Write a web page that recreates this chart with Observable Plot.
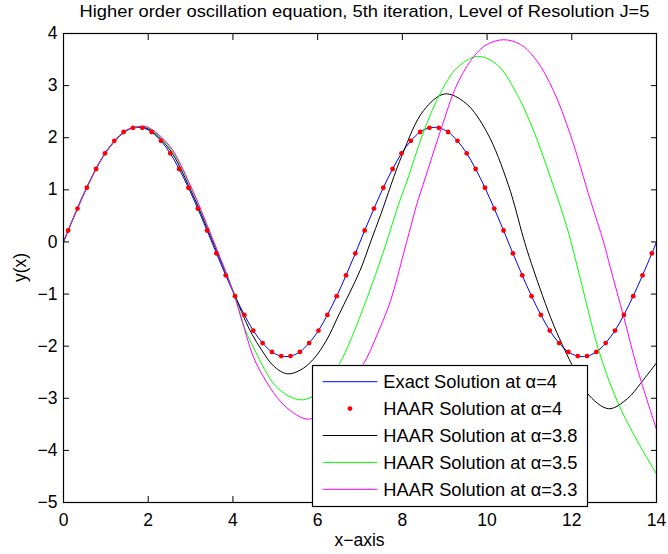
<!DOCTYPE html>
<html>
<head>
<meta charset="utf-8">
<script src="https://cdn.jsdelivr.net/npm/d3@7"></script>
<script src="https://cdn.jsdelivr.net/npm/@observablehq/plot@0.6"></script>
<style>
  body { margin: 0; background: #fff; }
  #wrap { position: relative; width: 668px; height: 554px; font-family: "Liberation Sans", Arial, Helvetica, sans-serif; }
  #wrap > svg { position: absolute; left: 0; top: 0; }
  #overlay { pointer-events: none; }
</style>
</head>
<body>
<div id="wrap"></div>
<script>
// ---------- Data ----------
const titleText = "Higher order oscillation equation, 5th iteration, Level of Resolution J=5";
const xLabel = "x\u2212axis";
const yLabel = "y(x)";
const xTicks = [0, 2, 4, 6, 8, 10, 12, 14];
const yTicks = [-5, -4, -3, -2, -1, 0, 1, 2, 3, 4];

// HAAR collocation points (alpha = 4), red dots
const haarX = [0.11,0.33,0.55,0.77,0.98,1.20,1.42,1.64,1.86,2.08,2.30,2.52,2.73,2.95,3.17,3.39,
               3.61,3.83,4.05,4.27,4.48,4.70,4.92,5.14,5.36,5.58,5.80,6.02,6.23,6.45,6.67,6.89,
               7.11,7.33,7.55,7.77,7.98,8.20,8.42,8.64,8.86,9.08,9.30,9.52,9.73,9.95,10.17,10.39,
               10.61,10.83,11.05,11.27,11.48,11.70,11.92,12.14,12.36,12.58,12.80,13.02,13.23,13.45,13.67,13.89];
const haarY = [0.22,0.64,1.04,1.40,1.70,1.94,2.11,2.19,2.19,2.11,1.94,1.70,1.40,1.04,0.64,0.22,
               -0.22,-0.64,-1.04,-1.40,-1.70,-1.94,-2.11,-2.19,-2.19,-2.11,-1.94,-1.70,-1.40,-1.04,-0.64,-0.22,
               0.22,0.64,1.04,1.40,1.70,1.94,2.11,2.19,2.19,2.11,1.94,1.70,1.40,1.04,0.64,0.22,
               -0.22,-0.64,-1.04,-1.40,-1.70,-1.94,-2.11,-2.19,-2.19,-2.11,-1.94,-1.70,-1.40,-1.04,-0.64,-0.22];

// Exact solution (alpha = 4), blue line: end points plus the same points
const exactX = [0, ...haarX, 14];
const exactY = [0, ...haarY, 0];

// HAAR alpha = 3.8 (black)
const a38X = [0,0.5,1,1.5,1.8,2,2.5,3,3.5,4,4.26,4.45,4.69,4.96,5.28,5.59,5.9,6.2,6.5,7,7.25,7.5,8,8.5,9,9.5,10,10.5,10.85,11,11.5,11.78,12,12.36,12.87,13.31,13.62,14];
const a38Y = [0,0.96,1.72,2.14,2.2,2.17,1.78,1.0,0.05,-0.93,-1.45,-1.77,-2.09,-2.38,-2.53,-2.46,-2.25,-1.9,-1.4,-0.55,0,0.55,1.68,2.52,2.84,2.66,2.1,1.1,0.1,-0.3,-1.45,-1.98,-2.35,-2.9,-3.2,-3.01,-2.72,-2.32];

// HAAR alpha = 3.5 (green)
const a35X = [0,0.5,1,1.5,1.85,2,2.5,3,3.5,4,4.3,4.5,4.75,5,5.3,5.6,5.87,6.2,6.52,6.78,7.17,7.56,7.94,8.11,8.51,8.9,9.29,9.77,10.24,10.71,11.1,11.5,11.89,12.2,12.64,13.07,13.54,14];
const a35Y = [0,0.96,1.72,2.15,2.21,2.19,1.82,1.06,0.09,-0.93,-1.7,-2.05,-2.45,-2.76,-2.95,-3.03,-2.97,-2.72,-2.33,-1.88,-1.07,-0.17,0.79,1.17,2.13,2.86,3.34,3.56,3.40,2.83,2.13,1.23,0.27,-0.7,-2.09,-3.05,-3.81,-4.45];

// HAAR alpha = 3.3 (magenta)
const a33X = [0,0.5,1,1.5,1.85,2,2.5,3,3.5,4,4.26,4.49,4.73,5.04,5.36,5.75,6.1,6.5,7.07,7.41,7.72,8.03,8.2,8.35,8.51,8.9,9.29,9.69,10,10.39,10.79,11.18,11.57,11.97,12.44,12.75,12.91,13.23,13.54,14];
const a33Y = [0,0.96,1.72,2.15,2.22,2.2,1.85,1.08,0.1,-0.95,-1.64,-2.22,-2.6,-2.98,-3.24,-3.4,-3.3,-2.98,-2.36,-1.77,-1.13,-0.22,0.3,0.75,1.15,2.13,3.02,3.56,3.79,3.88,3.79,3.47,2.9,2.05,0.8,0,-0.49,-1.45,-2.41,-3.6];

const legendLabels = ["Exact Solution at \u03B1=4", "HAAR Solution at \u03B1=4", "HAAR Solution at \u03B1=3.8", "HAAR Solution at \u03B1=3.5", "HAAR Solution at \u03B1=3.3"];
const legendColors = ["#0000ff", "#ff0000", "#000000", "#00ff00", "#ff00ff"];
const legendKinds = ["line", "dot", "line", "line", "line"];

// ---------- Build tables ----------
const zip = (xs, ys) => xs.map((x, i) => ({x, y: ys[i]}));
const exact = zip(exactX, exactY);
const haar = zip(haarX, haarY);
const s38 = zip(a38X, a38Y);
const s35 = zip(a35X, a35Y);
const s33 = zip(a33X, a33Y);

const W = 668, H = 554;
const mL = 63, mR = 12, mT = 33, mB = 52;
const font = "Liberation Sans, Arial, Helvetica, sans-serif";
const fmt = d => (d < 0 ? "\u2212" + (-d) : String(d));

const chart = Plot.plot({
  width: W, height: H,
  marginLeft: mL, marginRight: mR, marginTop: mT, marginBottom: mB,
  x: {domain: [0, 14], label: null},
  y: {domain: [-5, 4], label: null},
  style: {fontFamily: font, fontSize: "17px", color: "black", background: "white"},
  marks: [
    Plot.line(exact, {x: "x", y: "y", stroke: "#0000ff", strokeWidth: 1, curve: "catmull-rom", clip: true}),
    Plot.line(s38, {x: "x", y: "y", stroke: "#000000", strokeWidth: 1, curve: "catmull-rom", clip: true}),
    Plot.line(s35, {x: "x", y: "y", stroke: "#00ff00", strokeWidth: 1, curve: "catmull-rom", clip: true}),
    Plot.line(s33, {x: "x", y: "y", stroke: "#ff00ff", strokeWidth: 1, curve: "catmull-rom", clip: true}),
    Plot.dot(haar, {x: "x", y: "y", r: 2.4, fill: "#ff0000", stroke: null}),
    Plot.frame({stroke: "black", strokeWidth: 1.2}),
    Plot.axisX(xTicks, {anchor: "bottom", tickSize: -6, tickPadding: 17, tickFormat: fmt, label: null, fontSize: 17.5}),
    Plot.axisX(xTicks, {anchor: "top", tickSize: -6, tickFormat: () => "", label: null}),
    Plot.axisY(yTicks, {anchor: "left", tickSize: -6, tickPadding: 12, tickFormat: fmt, label: null, fontSize: 17.5}),
    Plot.axisY(yTicks, {anchor: "right", tickSize: -6, tickFormat: () => "", label: null})
  ]
});

const wrap = document.getElementById("wrap");
wrap.appendChild(chart);

// ---------- Overlay: title, axis labels, legend ----------
const ov = d3.select(wrap).append("svg")
  .attr("id", "overlay")
  .attr("width", W).attr("height", H)
  .style("font-family", font);

const plotCx = mL + (W - mL - mR) / 2;
ov.append("text").attr("x", plotCx + 5).attr("y", 17)
  .attr("text-anchor", "middle").attr("font-size", 17).attr("fill", "black")
  .attr("textLength", 570).attr("lengthAdjust", "spacingAndGlyphs")
  .text(titleText);

ov.append("text").attr("x", plotCx).attr("y", 546)
  .attr("text-anchor", "middle").attr("font-size", 17.5).attr("fill", "black")
  .text(xLabel);

ov.append("text").attr("transform", `translate(26,${mT + (H - mT - mB) / 2}) rotate(-90)`)
  .attr("text-anchor", "middle").attr("font-size", 17.5).attr("fill", "black")
  .text(yLabel);

// legend box
const lg = ov.append("g").attr("transform", "translate(312,365)");
const lgW = 275, lgH = 141;
lg.append("rect").attr("x", 0.5).attr("y", 0.5).attr("width", lgW).attr("height", lgH)
  .attr("fill", "white").attr("stroke", "black").attr("stroke-width", 1.2);
const rowY0 = 16.7, rowStep = 26.9;
legendLabels.forEach((lab, i) => {
  const cy = rowY0 + i * rowStep;
  if (legendKinds[i] === "line") {
    lg.append("line").attr("x1", 10.7).attr("x2", 65.3).attr("y1", cy).attr("y2", cy)
      .attr("stroke", legendColors[i]).attr("stroke-width", 1);
  } else {
    lg.append("circle").attr("cx", 38).attr("cy", cy).attr("r", 2.4).attr("fill", legendColors[i]);
  }
  lg.append("text").attr("x", 71.3).attr("y", cy).attr("dy", "0.35em")
    .attr("font-size", 18.3).attr("fill", "black").text(lab);
});
</script>
</body>
</html>
